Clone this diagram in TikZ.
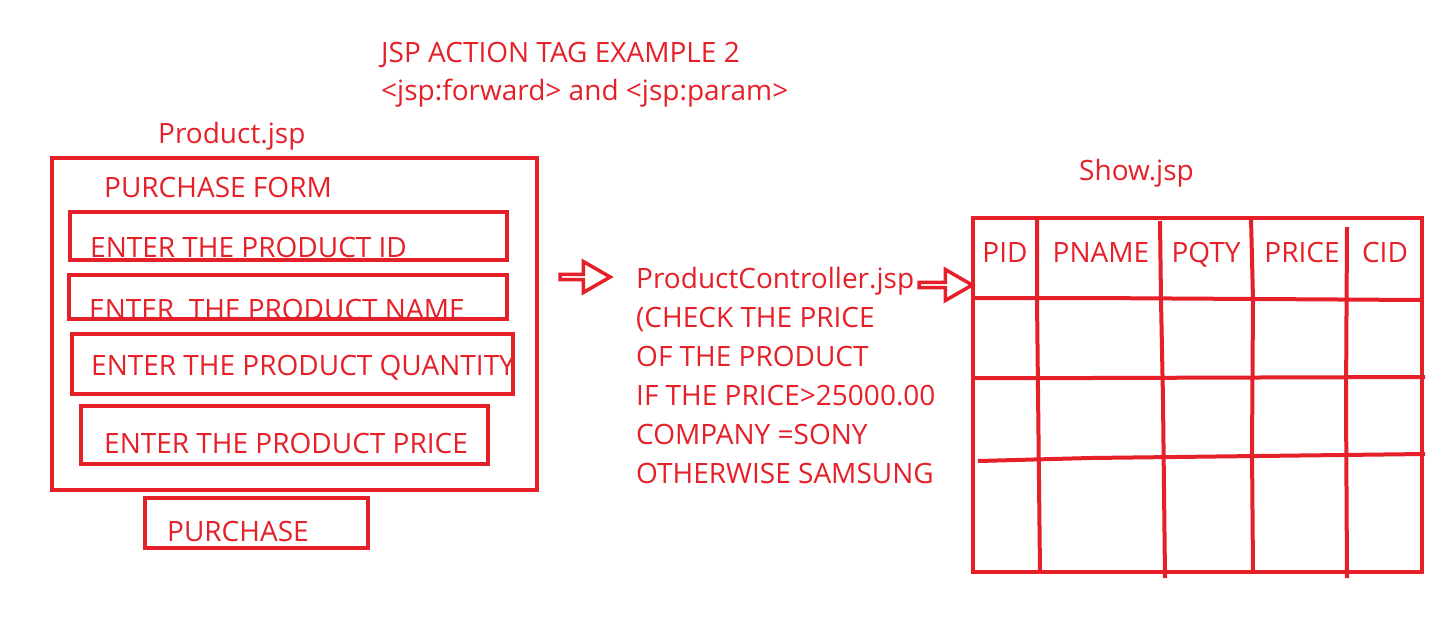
\documentclass[tikz,border=0pt]{standalone}
\usepackage{fontspec}
\setmainfont{Open Sans}
\usetikzlibrary{shapes.arrows}
\definecolor{inkred}{RGB}{229,32,40}
\tikzset{
  ink/.style={draw=inkred, line width=4pt},
  boxn/.style={ink, rectangle, inner sep=0pt, outer sep=0pt},
  lbl/.style={text=inkred, font=\fontsize{28}{32}\selectfont, inner sep=0pt, anchor=base west},
  hdr/.style={text=inkred, font=\fontsize{28}{32}\selectfont, inner sep=0pt, anchor=base},
  blockarrow/.style={draw=inkred, line width=3.5pt, single arrow, inner sep=0pt,
     single arrow tip angle=60, single arrow head extend=9pt, minimum width=31pt}
}
\begin{document}
\begin{tikzpicture}[x=1pt,y=-1pt]
\useasboundingbox (0,0) rectangle (1443,633);
\fill[white] (0,0) rectangle (1443,633);
% titles
\node[lbl] (t1) at (381,62) {JSP ACTION TAG EXAMPLE 2};
\node[lbl] (t2) at (381,100) {<jsp:forward> and <jsp:param>};
\node[lbl] (pj) at (158,143) {Product.jsp};
% form
\node[lbl] (pf) at (104,197) {PURCHASE FORM};
\node[lbl] (l1) at (90,257) {ENTER THE PRODUCT ID};
\node[lbl] (l2) at (89,319) {ENTER\ \ THE PRODUCT NAME};
\node[lbl] (l3) at (91,375) {ENTER THE PRODUCT QUANTITY};
\node[lbl] (l4) at (104,453) {ENTER THE PRODUCT PRICE};
\node[lbl] (l5) at (167,541) {PURCHASE};
\node[boxn, minimum width=485pt, minimum height=332pt] (outer) at (294.5,324) {};
\node[boxn, minimum width=437pt, minimum height=48pt] (b1) at (288.5,236) {};
\node[boxn, minimum width=438pt, minimum height=44pt] (b2) at (288,297) {};
\node[boxn, minimum width=441pt, minimum height=60pt] (b3) at (292.5,364) {};
\node[boxn, minimum width=407pt, minimum height=58pt] (b4) at (284.5,435) {};
\node[boxn, minimum width=223pt, minimum height=50pt] (b5) at (256.5,523) {};
% arrows
\node[blockarrow, minimum height=50pt] (a1) at (583,277) {};
\node[blockarrow, minimum height=53pt] (a2) at (943.5,285) {};
% controller text
\node[lbl] (c1) at (636,288) {ProductController.jsp};
\node[lbl] (c2) at (636,327) {(CHECK THE PRICE};
\node[lbl] (c3) at (636,366) {OF THE PRODUCT};
\node[lbl] (c4) at (636,405) {IF THE PRICE>25000.00};
\node[lbl] (c5) at (636,444) {COMPANY =SONY};
\node[lbl] (c6) at (636,483) {OTHERWISE SAMSUNG};
% show
\node[lbl] (sj) at (1079,180) {Show.jsp};
\node[hdr] (h1) at (1005,262) {PID};
\node[hdr] (h2) at (1101,262) {PNAME};
\node[hdr] (h3) at (1206,262) {PQTY};
\node[hdr] (h4) at (1302,262) {PRICE};
\node[hdr] (h5) at (1385,262) {CID};
% table
\draw[ink] (973,218) rectangle (1422,572);
\draw[ink] (1037,218) -- (1037,300) -- (1040,572);
\draw[ink] (1160,221) -- (1161,300) -- (1163,400) -- (1165,578);
\draw[ink] (1251,218) -- (1253,300) -- (1252,450) -- (1253,572);
\draw[ink] (1347,227) -- (1346,400) -- (1347,578);
\draw[ink] (973,298) -- (1090,298) -- (1422,300);
\draw[ink] (973,378) -- (1090,378) -- (1425,377);
\draw[ink] (978,461) -- (1090,458) -- (1425,454);
\end{tikzpicture}
\end{document}
